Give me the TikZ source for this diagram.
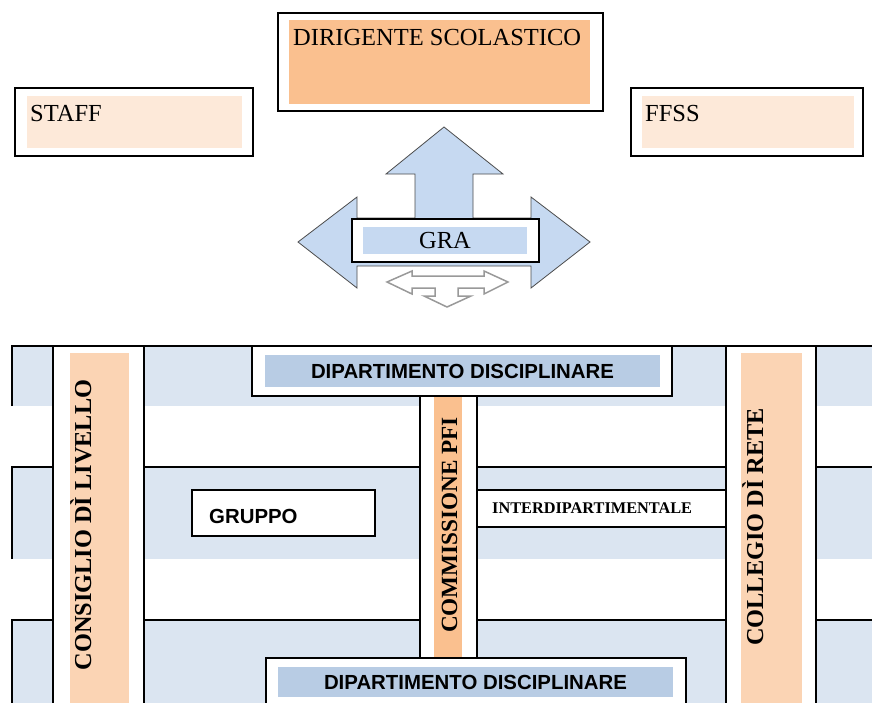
\documentclass[tikz,border=0pt]{standalone}
\usepackage{fontspec}
\setmainfont{Liberation Serif}
\setsansfont{Liberation Sans}
\definecolor{headorange}{RGB}{250,192,143}
\definecolor{staffpeach}{RGB}{253,233,217}
\definecolor{colpeach}{RGB}{251,212,180}
\definecolor{bandblue}{RGB}{219,229,241}
\definecolor{deptblue}{RGB}{184,204,228}
\definecolor{arrowblue}{RGB}{198,217,241}
\usetikzlibrary{positioning}

\begin{document}
\begin{tikzpicture}[x=1pt, y=-1pt,
  outerbox/.style={draw, line width=1.5pt, fill=white, inner sep=0pt, outer sep=0pt},
  fillbox/.style={inner sep=0pt, outer sep=0pt},
  gridline/.style={line width=1.5pt},
  toptext/.style={inner sep=0pt, font=\fontsize{24.5}{28}\selectfont},
  depttext/.style={font=\sffamily\bfseries\fontsize{20.4}{24}\selectfont},
  coltext/.style={inner sep=0pt, rotate=90, anchor=base, font=\bfseries\fontsize{24.3}{28}\selectfont}]
\clip (0,0) rectangle (872,702);

% Top boxes
\node[outerbox, minimum width=325pt, minimum height=98pt] (dirbox) at (440.5,62) {};
\node[fillbox, fill=headorange, minimum width=301pt, minimum height=84pt] (dirfill) at (439.5,62) {};
\node[toptext, anchor=base west] (dirtext) at (293,45) {DIRIGENTE SCOLASTICO};

\node[outerbox, minimum width=238pt, minimum height=68pt] (staffbox) at (134,122) {};
\node[fillbox, fill=staffpeach, minimum width=215pt, minimum height=52pt] (stafffill) at (134.5,122) {};
\node[toptext, anchor=base west] (stafftext) at (30,121) {STAFF};

\node[outerbox, minimum width=232pt, minimum height=68pt] (ffssbox) at (747,122) {};
\node[fillbox, fill=staffpeach, minimum width=212pt, minimum height=52pt] (ffssfill) at (748,122) {};
\node[toptext, anchor=base west] (ffsstext) at (645,121) {FFSS};

% Arrows round GRA
\draw[fill=arrowblue, draw=black!70, line width=0.8pt]
  (298,242) -- (357,197) -- (357,218) -- (415,218) -- (415,174) -- (386,174)
  -- (444,127) -- (503,174) -- (473,174) -- (473,218) -- (531,218) -- (531,197)
  -- (590,242) -- (531,288) -- (531,266) -- (357,266) -- (357,288) -- cycle;
\node[outerbox, minimum width=187pt, minimum height=43pt] (grabox) at (445.5,240.5) {};
\node[fillbox, fill=arrowblue, minimum width=164pt, minimum height=27pt, font=\fontsize{24.5}{28}\selectfont] (gra) at (445,240.5) {GRA};
\draw[fill=white, draw=black!40, line width=1.5pt, line join=miter]
  (387,282) -- (412,271) -- (412,276) -- (484,276) -- (484,271) -- (508,282)
  -- (484,294) -- (484,288) -- (458,288) -- (458,296) -- (471,296) -- (447,307)
  -- (424,296) -- (435,296) -- (435,288) -- (412,288) -- (412,294) -- cycle;

% Bands
\foreach \top/\bot in {346/406, 467/559, 620/720} {
  \fill[bandblue] (12,\top) rectangle (872,\bot);
  \draw[gridline] (12,\bot) |- (872,\top);
}

% Columns
\node[outerbox, minimum width=91pt, minimum height=370pt] (conscol) at (98.5,531) {};
\node[fillbox, fill=colpeach, minimum width=59pt, minimum height=360pt] (consfill) at (99.5,533) {};
\node[coltext] (consiglio) at (91,525) {CONSIGLIO DÌ LIVELLO};

\node[outerbox, minimum width=90pt, minimum height=370pt] (collcol) at (771,531) {};
\node[fillbox, fill=colpeach, minimum width=61pt, minimum height=360pt] (collfill) at (771.5,533) {};
\node[coltext] (collegio) at (763,527) {COLLEGIO DÌ RETE};

\node[outerbox, minimum width=57pt, minimum height=300pt] (commcol) at (448.5,530) {};
\node[fillbox, fill=headorange, minimum width=28pt, minimum height=290pt] (commfill) at (448,530) {};
\node[coltext, font=\bfseries\fontsize{23.2}{27}\selectfont] (commissione) at (457,525) {COMMISSIONE PFI};

% Inner boxes
\node[outerbox, minimum width=183pt, minimum height=46pt] (grupbox) at (283.5,513) {};
\node[depttext, inner sep=0pt, anchor=base west] (gruppo) at (209,523) {GRUPPO};

\node[outerbox, minimum width=249pt, minimum height=37pt] (interbox) at (601.5,508.5) {};
\node[inner sep=0pt, anchor=base west, font=\bfseries\fontsize{16.3}{19}\selectfont] (inter) at (492,513) {INTERDIPARTIMENTALE};

\node[outerbox, minimum width=420pt, minimum height=50pt] (deptopbox) at (462,371) {};
\node[fillbox, depttext, fill=deptblue, minimum width=395pt, minimum height=32pt] (deptop) at (462.5,371) {DIPARTIMENTO DISCIPLINARE};

\node[outerbox, minimum width=420pt, minimum height=62pt] (deptbotbox) at (476,689) {};
\node[fillbox, depttext, fill=deptblue, minimum width=395pt, minimum height=30pt] (deptbot) at (475.5,682) {DIPARTIMENTO DISCIPLINARE};

\end{tikzpicture}
\end{document}
